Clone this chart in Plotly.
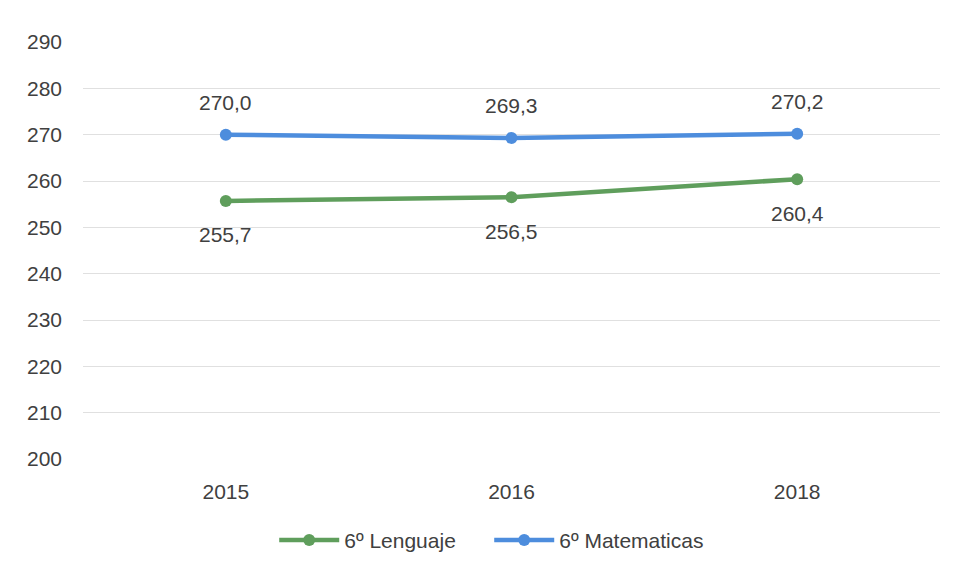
import plotly.graph_objects as go

# chart data
years = ['2015', '2016', '2018']
lenguaje = [255.7, 256.5, 260.4]
matematicas = [270.0, 269.3, 270.2]
y_ticks = list(range(200, 291, 10))

COLORS = {
    'lenguaje': '#5f9e5c',
    'matematicas': '#4d8ddd',
    'text': '#404040',
    'grid': '#e0e0e0',
}
FONT = 'Liberation Sans, Arial, sans-serif'


def fmt(v):
    return f'{v:.1f}'.replace('.', ',')


fig = go.Figure()
fig.add_trace(go.Scatter(
    x=years, y=lenguaje, name='6º Lenguaje', mode='lines+markers',
    line=dict(color=COLORS['lenguaje'], width=4.5),
    marker=dict(size=12, color=COLORS['lenguaje']),
))
fig.add_trace(go.Scatter(
    x=years, y=matematicas, name='6º Matematicas', mode='lines+markers',
    line=dict(color=COLORS['matematicas'], width=4.5),
    marker=dict(size=12, color=COLORS['matematicas']),
))

# data labels: blue above the points, green below
annotations = []
for i, v in enumerate(matematicas):
    annotations.append(dict(x=i, y=v, xref='x', yref='y', text=fmt(v), showarrow=False,
                            yshift=32, font=dict(size=21, color=COLORS['text'], family=FONT)))
for i, v in enumerate(lenguaje):
    annotations.append(dict(x=i, y=v, xref='x', yref='y', text=fmt(v), showarrow=False,
                            yshift=-34, font=dict(size=21, color=COLORS['text'], family=FONT)))

fig.update_layout(
    width=955, height=573,
    paper_bgcolor='white', plot_bgcolor='white',
    font=dict(family=FONT, size=21, color=COLORS['text']),
    margin=dict(l=75, r=23, t=34, b=122),
    showlegend=True,
    legend=dict(orientation='h', x=0.474, xanchor='center', y=-0.195, yanchor='middle',
                font=dict(size=21, color=COLORS['text']), itemwidth=60,
                entrywidth=140),
    xaxis=dict(type='category', range=[-0.5, 2.5], showgrid=False, showline=False,
               zeroline=False, ticks='', ticklabelstandoff=18),
    yaxis=dict(range=[200, 290], tickvals=y_ticks, showgrid=True, gridcolor=COLORS['grid'],
               gridwidth=1, zeroline=False, showline=False, ticks='', ticklabelstandoff=20),
    annotations=annotations,
)

fig.write_html('out.html')
